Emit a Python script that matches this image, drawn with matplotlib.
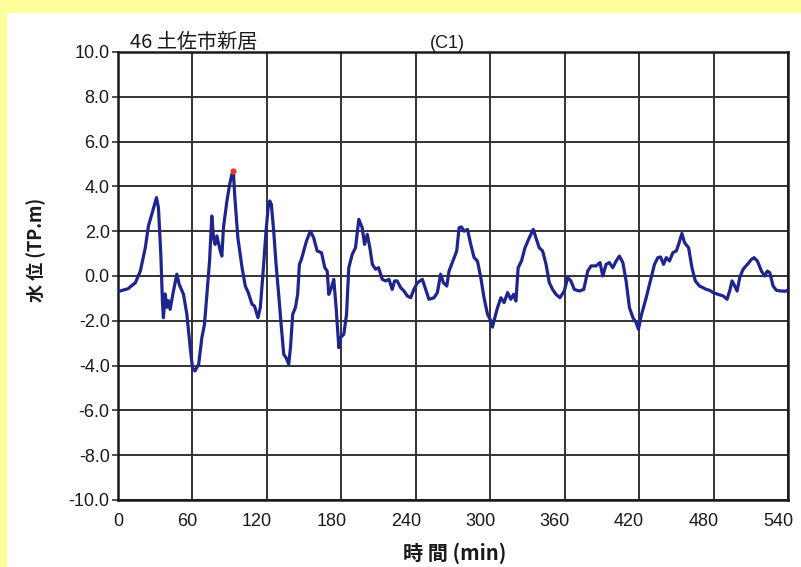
import matplotlib
matplotlib.use("Agg")
import matplotlib.pyplot as plt
from matplotlib.patches import Rectangle
from matplotlib.transforms import ScaledTranslation

# ---- data (time in minutes, water level in TP.m) ----
time_min = [0, 1.6, 8, 14, 18, 22, 24.5, 28, 31, 32.6, 34.5, 35.8, 36.6, 38, 39.3, 40.6, 42,
            44.7, 47.4, 49.3, 52.8, 55.5, 58.2, 60, 62, 65, 67.6, 69.7, 71.6, 73.8, 75.6,
            77, 78.3, 79.7, 82.4, 83.7, 85, 87.8, 90, 91.8, 93, 94, 96.6, 100, 102.6,
            105, 108, 110, 112.8, 114.7, 117.4, 119.3, 121, 122.3, 123.6, 125.5, 127.4,
            129.5, 131.7, 133.6, 135.5, 137.6, 139, 140.8, 143, 144.8, 146.2, 147.8, 149.7,
            151.9, 155, 157.7, 160.5, 164, 166.7, 168.6, 169.9, 172, 173.9, 175.8, 178,
            179.3, 182, 184.2, 186, 188.8, 191.4, 194.1, 196.8, 198.7, 200.9, 203, 205,
            207.6, 210, 213, 215.7, 218.4, 221, 222.9, 225, 227.8, 230.5, 233.2, 235.9,
            238.5, 241.3, 245.3, 248, 250.6, 254.7, 257.4, 260, 262.3, 265, 266.8, 270.4,
            273, 274.9, 276.8, 278.9, 281.7, 284.3, 287, 289.7, 292.4, 295, 297.8, 300.5,
            301.8, 303.7, 305.9, 308.6, 311.2, 314, 316.6, 318.8, 320.7, 322.5, 325.2, 328,
            331.5, 334.7, 336.8, 339.5, 342.2, 345, 347.6, 350.3, 353, 356.2, 359.7, 362.4,
            365, 367.8, 371.8, 375.4, 378.6, 381.3, 385.3, 388.5, 390.7, 393.4, 396, 398.8,
            401.5, 404.1, 406.9, 409.5, 412.2, 415, 417.6, 419.5, 421.6, 425.7, 429.8,
            432.4, 435.1, 437.3, 439.7, 441.9, 444.5, 447.2, 450, 451.8, 454.5, 456.6,
            459.9, 462.6, 465.3, 468.7, 471.5, 474.2, 476.9, 479.6, 483.6, 487.7, 490.9,
            493, 494.9, 497.1, 499, 501.1, 503.8, 507.3, 510.5, 512.7, 515.3, 518.6, 521.2,
            523.4, 525.3, 528, 530.7, 534.7, 538, 540]
water_level = [-0.65, -0.67, -0.57, -0.3, 0.22, 1.26, 2.23, 2.9, 3.5, 3.05, 0.98, -1.12, -1.86,
               -0.8, -1.4, -1.1, -1.49, -0.67, 0.08, -0.37, -0.82, -1.71, -3.2, -4.09, -4.24,
               -3.94, -2.75, -2.16, -0.82, 0.67, 2.68, 1.71, 1.41, 1.79, 1.12, 0.89, 2.16,
               3.35, 4.09, 4.54, 4.64, 3.65, 1.71, 0.37, -0.45, -0.74, -1.26, -1.34, -1.86,
               -1.41, 0.52, 2.0, 3.05, 3.35, 3.2, 2.0, 0.52, -0.82, -2.31, -3.5, -3.65, -3.94,
               -3.2, -1.71, -1.41, -0.82, 0.52, 0.74, 1.12, 1.56, 2.0, 1.71, 1.12, 1.04, 0.37,
               0.22, -0.82, -0.52, -0.15, -1.41, -3.2, -2.75, -2.6, -1.71, 0.37, 0.97, 1.26,
               2.53, 2.16, 1.41, 1.86, 1.26, 0.52, 0.3, 0.37, -0.15, -0.22, -0.15, -0.6, -0.22,
               -0.22, -0.52, -0.67, -0.89, -0.97, -0.6, -0.3, -0.15, -0.6, -1.04, -0.97, -0.74,
               0.08, -0.3, -0.45, 0.22, 0.74, 1.12, 2.16, 2.19, 2.0, 2.08, 1.41, 0.82, 0.67,
               -0.07, -0.97, -1.71, -2.0, -2.28, -1.86, -1.41, -0.97, -1.19, -0.74, -1.04,
               -0.82, -1.12, 0.37, 0.67, 1.26, 1.71, 2.08, 1.71, 1.26, 1.12, 0.52, -0.3, -0.6,
               -0.82, -0.97, -0.67, -0.07, -0.22, -0.6, -0.67, -0.6, 0.22, 0.45, 0.45, 0.6, 0.0,
               0.52, 0.6, 0.37, 0.67, 0.89, 0.6, -0.22, -1.41, -1.86, -2.08, -2.38, -1.79,
               -0.97, -0.07, 0.52, 0.82, 0.85, 0.52, 0.82, 0.67, 1.04, 1.12, 1.41, 1.9, 1.49,
               1.26, 0.37, -0.22, -0.45, -0.52, -0.6, -0.64, -0.74, -0.82, -0.89, -1.04, -0.67,
               -0.22, -0.45, -0.67, -0.07, 0.3, 0.52, 0.74, 0.82, 0.67, 0.22, 0.0, 0.22, 0.15,
               -0.45, -0.64, -0.67, -0.68, -0.62]
peak_time = [93]
peak_level = [4.7]

x_ticks = [0, 60, 120, 180, 240, 300, 360, 420, 480, 540]
y_ticks = [10, 8, 6, 4, 2, 0, -2, -4, -6, -8, -10]
y_tick_labels = ["10.0", "8.0", "6.0", "4.0", "2.0", "0.0", "-2.0", "-4.0", "-6.0", "-8.0", "-10.0"]

title_left = "46 土佐市新居"
title_mid = "(C1)"
x_label = "時 間 (min)"
y_label = "水 位 (TP.m)"

# ---- figure ----
W, H = 801, 567
fig = plt.figure(figsize=(W / 100, H / 100), dpi=100)
fig.patch.set_facecolor("#FFFF9A")
fig.patches.append(Rectangle((7 / W, 0), 1 - 7 / W, 1 - 13 / H, transform=fig.transFigure,
                             facecolor="white", edgecolor="none", zorder=-10))

ax = fig.add_axes([118 / W, 1 - 500 / H, (788 - 118) / W, (500 - 52) / H])
ax.set_facecolor("white")

num_font = ["Liberation Sans", "DejaVu Sans"]
jp_font = ["Noto Sans CJK JP", "DejaVu Sans"]

ax.plot(time_min, water_level, color="#1f248f", lw=2.3, solid_joinstyle="round", zorder=3)
ax.plot(peak_time, peak_level, "o", color="#e04020", ms=3.5, zorder=4)

ax.set_xlim(0, 540)
ax.set_ylim(-10, 10)
ax.set_xticks(x_ticks)
ax.set_yticks(y_ticks)
ax.set_yticklabels(y_tick_labels)
ax.grid(True, color="#333333", lw=1.4)
ax.set_axisbelow(True)
for s in ax.spines.values():
    s.set_color("#1a1a1a")
    s.set_linewidth(1.8)
ax.tick_params(axis="y", direction="out", length=4, width=1.2, color="#333333", pad=2,
               labelsize=13, labelcolor="#1a1a1a")
ax.tick_params(axis="x", direction="out", length=0, pad=9, labelsize=13, labelcolor="#1a1a1a")
shift = ScaledTranslation(5 / 100, 0, fig.dpi_scale_trans)
for lab in ax.get_xticklabels():
    lab.set_family(num_font)
    lab.set_horizontalalignment("right")
    lab.set_transform(lab.get_transform() + shift)
for lab in ax.get_yticklabels():
    lab.set_family(num_font)

fig.text(130 / W, 1 - 48 / H, title_left, family=jp_font, fontsize=14.5, color="#1a1a1a",
         ha="left", va="baseline")
fig.text(430 / W, 1 - 48 / H, title_mid, family=num_font, fontsize=13, color="#1a1a1a",
         ha="left", va="baseline")
fig.text(455 / W, 1 - 553 / H, x_label, family=jp_font, fontsize=14.5, color="#1a1a1a",
         ha="center", va="center", fontweight="bold")
fig.text(36 / W, 1 - 250 / H, y_label, family=jp_font, fontsize=13, color="#1a1a1a",
         ha="center", va="center", rotation=90, fontweight="bold")

fig.savefig("out.png", dpi=100, facecolor=fig.get_facecolor())
